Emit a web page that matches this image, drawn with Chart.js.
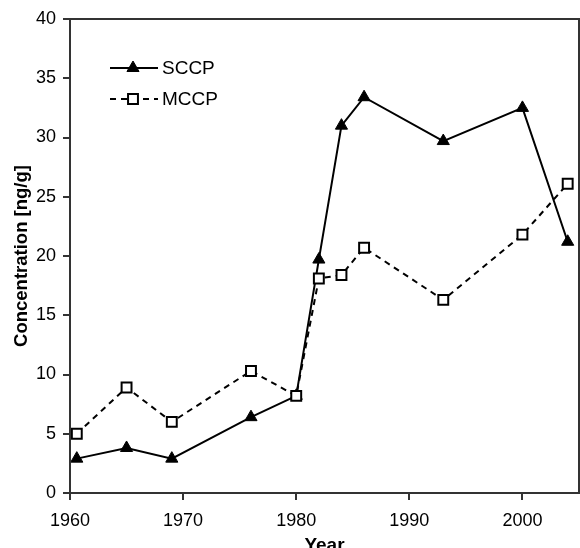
<!DOCTYPE html>
<html>
<head>
<meta charset="utf-8">
<script src="https://cdn.jsdelivr.net/npm/chart.js@4/dist/chart.umd.min.js"></script>
<style>
  html,body{margin:0;padding:0;background:#fff;}
  #wrap{width:580px;height:548px;position:relative;overflow:hidden;}
</style>
</head>
<body>
<div id="wrap"><canvas id="c" width="580" height="548"></canvas></div>
<script>
// SCCP / MCCP concentration by year
const years = [1960.6, 1965, 1969, 1976, 1980, 1982, 1984, 1986, 1993, 2000, 2004];
const sccp  = [2.9, 3.8, 2.9, 6.4, 8.2, 19.7, 31.0, 33.4, 29.7, 32.5, 21.2];
const mccp  = [5.0, 8.9, 6.0, 10.3, 8.2, 18.1, 18.4, 20.7, 16.3, 21.8, 26.1];
const xTicks = [1960, 1970, 1980, 1990, 2000];
const yTicks = [0, 5, 10, 15, 20, 25, 30, 35, 40];
const names = ["SCCP", "MCCP"];

const INK = "#000", AXIS = "#333";
const FONT = "'Liberation Sans', Arial, sans-serif";
Chart.defaults.font.family = FONT;
Chart.defaults.color = INK;

const pts = arr => years.map((x, i) => ({x, y: arr[i]}));

// box around plot + legend with line+marker samples
const frame = {
  id: "frame",
  afterDatasetsDraw(chart){
    const {ctx, chartArea:a} = chart;
    ctx.save();
    ctx.strokeStyle = AXIS; ctx.lineWidth = 2;
    ctx.strokeRect(a.left, a.top, a.right - a.left, a.bottom - a.top);
    ctx.restore();

    const rows = [68, 99];
    chart.data.datasets.forEach((ds, i) => {
      const y = rows[i];
      ctx.save();
      ctx.strokeStyle = INK; ctx.lineWidth = 2;
      ctx.setLineDash(ds.borderDash || []);
      ctx.beginPath(); ctx.moveTo(110, y); ctx.lineTo(158, y); ctx.stroke();
      ctx.setLineDash([]);
      ctx.fillStyle = ds.pointBackgroundColor;
      ctx.strokeStyle = INK; ctx.lineWidth = ds.pointBorderWidth;
      Chart.helpers.drawPoint(ctx, {pointStyle: ds.pointStyle, radius: ds.pointRadius,
        borderWidth: ds.pointBorderWidth, rotation: 0}, 133, y);
      ctx.fillStyle = INK;
      ctx.font = "19px " + FONT;
      ctx.textBaseline = "middle";
      ctx.fillText(ds.label, 162, y + 1);
      ctx.restore();
    });
  }
};

new Chart(document.getElementById("c"), {
  type: "line",
  data: {
    datasets: [
      {label: names[0], data: pts(sccp), borderColor: INK, borderWidth: 2, pointStyle: "triangle",
       pointRadius: 7, pointBackgroundColor: INK, pointBorderColor: INK, pointBorderWidth: 1, order: 1, tension: 0},
      {label: names[1], data: pts(mccp), borderColor: INK, borderWidth: 2, borderDash: [6, 5], pointStyle: "rect",
       pointRadius: 7, pointBackgroundColor: "#fff", pointBorderColor: INK, pointBorderWidth: 2, order: 0, tension: 0}
    ]
  },
  options: {
    responsive: false, animation: false,
    layout: {autoPadding: false, padding: {top: 19, right: 1, left: 0, bottom: 0}},
    plugins: {legend: {display: false}, tooltip: {enabled: false}},
    scales: {
      x: {
        type: "linear", min: 1960, max: 2005,
        afterBuildTicks: s => { s.ticks = xTicks.map(v => ({value: v})); },
        afterFit: s => { s.height = 55; s.paddingRight = 0; },
        grid: {drawOnChartArea: false, drawTicks: true, tickLength: 7, color: AXIS, lineWidth: 2},
        border: {color: AXIS, width: 2},
        ticks: {color: INK, font: {size: 18}, padding: 10, maxRotation: 0, callback: v => String(v)},
        title: {display: true, text: "Year", color: INK, font: {size: 19, weight: "bold"}, padding: {top: 0, bottom: -9}}
      },
      y: {
        min: 0, max: 40,
        afterBuildTicks: s => { s.ticks = yTicks.map(v => ({value: v})); },
        afterFit: s => { s.width = 70; },
        grid: {drawOnChartArea: false, drawTicks: true, tickLength: 7, color: AXIS, lineWidth: 2},
        border: {color: AXIS, width: 2},
        ticks: {color: INK, font: {size: 18}, padding: 7, callback: v => String(v)},
        title: {display: true, text: "Concentration [ng/g]", color: INK, font: {size: 18.5, weight: "bold"}, padding: {top: 11, bottom: 11}}
      }
    }
  },
  plugins: [frame]
});
</script>
</body>
</html>
